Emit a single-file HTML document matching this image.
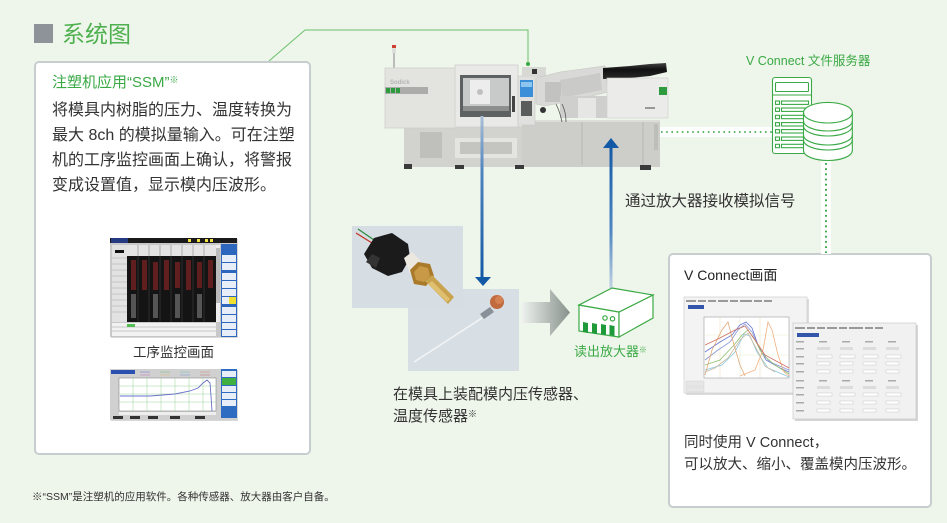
<!DOCTYPE html>
<html><head><meta charset="utf-8"><style>
html,body{margin:0;padding:0;}
body{width:947px;height:523px;background:#eef5ea;position:relative;overflow:hidden;font-family:"Liberation Sans","Noto Sans CJK SC",sans-serif;color:#333;}
.t{position:absolute;white-space:nowrap;}
svg{position:absolute;left:0;top:0;}
sup{font-size:0.6em;vertical-align:0.45em;line-height:0;}
</style></head><body>
<svg width="947" height="523" viewBox="0 0 947 523">
<defs>
<linearGradient id="gArrow" x1="0" x2="1" y1="0" y2="0"><stop offset="0" stop-color="#eef1ee"/><stop offset="1" stop-color="#87918b"/></linearGradient>
<linearGradient id="gBlueDown" x1="0" x2="0" y1="0" y2="1"><stop offset="0" stop-color="#a9bfd6"/><stop offset="0.35" stop-color="#4d82bf"/><stop offset="1" stop-color="#135aa6"/></linearGradient>
<linearGradient id="gBlueUp" x1="0" x2="0" y1="0" y2="1"><stop offset="0" stop-color="#135aa6"/><stop offset="0.6" stop-color="#4f86c2"/><stop offset="1" stop-color="#c2d3e3"/></linearGradient>
<linearGradient id="gMotor" x1="0" x2="0" y1="0" y2="1"><stop offset="0" stop-color="#444"/><stop offset="0.4" stop-color="#111"/><stop offset="1" stop-color="#2a2a2a"/></linearGradient>
</defs>

<!-- title square -->
<rect x="34" y="24" width="19" height="19" fill="#8e9399"/>

<!-- left box -->
<rect x="35" y="62" width="275" height="392" rx="4" fill="#fff" stroke="#c8cdd0" stroke-width="2"/>
<!-- right box -->
<rect x="669" y="254" width="262" height="253" rx="4" fill="#fff" stroke="#c8cdd0" stroke-width="2"/>

<!-- green connector -->
<polyline points="269,61 305,30 528,30 528,64" fill="none" stroke="#6cc06c" stroke-width="1"/>
<circle cx="528" cy="64" r="2" fill="#3aa945"/>

<!-- dotted connectors with white bands -->
<rect x="659" y="127" width="114" height="10" fill="#fff"/>
<line x1="661" y1="132" x2="772" y2="132" stroke="#2aa038" stroke-width="1.6" stroke-dasharray="1.6 3.6"/>
<rect x="821" y="161" width="10" height="93" fill="#fff"/>
<line x1="826" y1="163" x2="826" y2="253" stroke="#2aa038" stroke-width="1.8" stroke-dasharray="1.8 3.4"/>

<!-- ===== machine ===== -->
<g>
<line x1="394" y1="52" x2="394" y2="69" stroke="#aaa" stroke-width="1.5"/>
<rect x="392" y="45" width="4" height="8" fill="#dcdedc"/>
<rect x="392" y="45" width="4" height="3" fill="#d04030"/>
<!-- base -->
<rect x="404" y="126" width="256" height="41" fill="#d2d2ce"/>
<rect x="420" y="132" width="22" height="26" fill="#bfc0bb"/>
<rect x="455" y="138" width="62" height="20" fill="#e4e4e0"/>
<rect x="460" y="142" width="52" height="12" fill="#c4c5c0"/>
<rect x="522" y="120" width="138" height="47" fill="#cdcdc9"/>
<line x1="582" y1="122" x2="582" y2="165" stroke="#b8b8b4" stroke-width="1"/>
<line x1="643" y1="122" x2="643" y2="165" stroke="#b8b8b4" stroke-width="1"/>
<line x1="522" y1="121" x2="660" y2="121" stroke="#e2e2de" stroke-width="1.5"/>
<rect x="654" y="124" width="4" height="26" fill="#bdbdb9"/>
<rect x="404" y="164" width="8" height="5" fill="#3a3a3a"/>
<rect x="455" y="165" width="9" height="4" fill="#3a3a3a"/>
<rect x="515" y="165" width="9" height="4" fill="#3a3a3a"/>
<rect x="640" y="165" width="11" height="5" fill="#3a3a3a"/>
<!-- left cover -->
<rect x="385" y="68" width="71" height="60" fill="#e3e3e0" stroke="#cfcfcb" stroke-width="0.8"/>
<rect x="385" y="87" width="43" height="7" fill="#acacaa"/>
<rect x="386" y="88" width="4" height="5" fill="#2e9a3e"/><rect x="391" y="88" width="4" height="5" fill="#2e9a3e"/><rect x="396" y="88" width="4" height="5" fill="#2e9a3e"/>
<text x="390" y="84" font-size="6" font-weight="bold" fill="#b5b5b2" font-family="Liberation Sans">Sodick</text>
<!-- door -->
<rect x="455" y="65" width="63" height="62" fill="#e9e9e7" stroke="#cfcfcb" stroke-width="0.8"/>
<rect x="460" y="75" width="51" height="42" fill="#5e6162"/>
<rect x="463" y="78" width="46" height="33" fill="#c8cac9"/>
<rect x="470" y="80" width="20" height="24" fill="#ecedec"/>
<circle cx="480" cy="92" r="3" fill="#bfc1c0"/>
<rect x="463" y="106" width="46" height="5" fill="#8d8f8f"/>
<rect x="512" y="96" width="3" height="16" fill="#444"/>
<!-- control panel -->
<rect x="518" y="76" width="17" height="49" fill="#e0e0de" stroke="#c8c8c5" stroke-width="0.6"/>
<rect x="520" y="80" width="13" height="17" fill="#3b8fd8"/>
<rect x="521" y="82" width="11" height="5" fill="#8cc6f0"/>
<rect x="521" y="101" width="11" height="15" fill="#5a5c5c"/>
<rect x="522" y="67" width="24" height="10" fill="#d8d8d5"/>
<rect x="532" y="69" width="5" height="5" fill="#333"/>
<!-- injection unit -->
<polygon points="536,78 560,72 605,66 608,92 575,100 545,106 536,104" fill="#d9dad7" stroke="#c3c4c0" stroke-width="0.6"/>
<polygon points="560,80 600,73 602,90 562,98" fill="#cacbc8"/>
<rect x="545" y="82" width="16" height="20" fill="#c2c3c0"/>
<rect x="560" y="96" width="48" height="22" fill="#cfd0cd"/>
<rect x="578" y="98" width="18" height="20" fill="#e6e6e4"/>
<path d="M556 104 Q560 112 562 122 M562 104 Q566 112 566 122" stroke="#555" stroke-width="0.8" fill="none"/>
<circle cx="543" cy="110" r="3" fill="#333"/>
<polygon points="603,68 630,66 650,64 666,63 667,72 650,76 630,78 603,79" fill="url(#gMotor)"/>
<rect x="607" y="78" width="61" height="40" fill="#ebebe9" stroke="#cfcfcc" stroke-width="0.6"/>
<rect x="659" y="87" width="8" height="8" fill="#2e9a3e"/>
<rect x="645" y="107" width="10" height="2" fill="#999"/>
</g>

<!-- blue arrows -->
<rect x="480.5" y="116" width="3" height="162" fill="url(#gBlueDown)"/>
<polygon points="475,277 491,277 483,286" fill="#135aa6"/>
<rect x="609.5" y="147" width="3" height="141" fill="url(#gBlueUp)"/>
<polygon points="603,148 619,148 611,138" fill="#135aa6"/>

<!-- sensor photos -->
<rect x="408" y="289" width="111" height="82" fill="#d8dfe4"/>
<line x1="414" y1="362" x2="482" y2="318" stroke="#f2f4f5" stroke-width="1.6"/>
<polygon points="480,314 490,307 494,312 484,319" fill="#8a9098"/>
<circle cx="497" cy="302" r="7" fill="#c06a3e"/>
<circle cx="499" cy="300" r="4" fill="#d48050"/>

<rect x="352" y="226" width="111" height="82" fill="#d6dde3"/>
<path d="M358 229 L374 240" stroke="#2b8a3a" stroke-width="1.2"/>
<path d="M356 233 L372 243" stroke="#c03020" stroke-width="1.2"/>
<polygon points="364,254 374,238 392,233 408,244 410,258 402,272 388,276 372,268" fill="#1b1b1b"/>
<polygon points="366,262 372,254 380,258 376,268" fill="#333"/>
<polygon points="404,258 412,252 420,260 418,270 410,274" fill="#ebe8e0"/>
<polygon points="410,270 418,262 430,264 434,276 426,286 414,284" fill="#a87a2a"/>
<polygon points="414,272 420,266 428,268 430,276 424,282 416,280" fill="#c89a48"/>
<polygon points="425,281 432,275 454,297 448,304" fill="#c9a24e"/>
<polygon points="428,284 432,281 450,299 447,302" fill="#e0c070"/>

<!-- gray arrow -->
<polygon points="522,302 550,302 550,289 570,312.5 550,336 550,323 522,323" fill="url(#gArrow)"/>

<!-- amplifier -->
<g fill="none" stroke="#3aa945" stroke-width="1.2">
<polygon points="579,305 619,312 619,337 579,331" fill="#fff"/>
<polygon points="619,312 653,295 653,318 619,337" fill="#fff"/>
<polygon points="579,305 619,312 653,295 612,288" fill="#fff"/>
<circle cx="605" cy="318" r="2.2"/><circle cx="612.5" cy="318.8" r="2.2"/>
</g>
<g fill="#1f9a3a">
<polygon points="583,322 588,323 588,333 583,332"/>
<polygon points="592,323 597,324 597,334 592,333"/>
<polygon points="601,324 606,325 606,335 601,334"/>
<polygon points="609.5,325 614.5,326 614.5,336 609.5,335"/>
</g>

<!-- server icon -->
<g fill="none" stroke="#3aa945" stroke-width="1.1">
<rect x="772.5" y="77.5" width="39" height="76" rx="2.5" fill="#fff"/>
<rect x="775.5" y="82.5" width="33" height="9" rx="1"/>
<line x1="773" y1="95" x2="811" y2="95"/>
<rect x="775.5" y="101" width="4" height="3.4"/><rect x="781.5" y="101" width="27" height="3.4"/>
<rect x="775.5" y="108" width="4" height="3.4"/><rect x="781.5" y="108" width="27" height="3.4"/>
<rect x="775.5" y="115.3" width="4" height="3.4"/><rect x="781.5" y="115.3" width="27" height="3.4"/>
<rect x="775.5" y="122.6" width="4" height="3.4"/><rect x="781.5" y="122.6" width="27" height="3.4"/>
<rect x="775.5" y="129.6" width="4" height="3.4"/><rect x="781.5" y="129.6" width="27" height="3.4"/>
<rect x="775.5" y="137" width="4" height="3.4"/><rect x="781.5" y="137" width="27" height="3.4"/>
<rect x="775.5" y="144.3" width="4" height="3.4"/><rect x="781.5" y="144.3" width="27" height="3.4"/>
<path d="M803.5 112.7 L803.5 150.5 A24.4 10 0 0 0 852.3 150.5 L852.3 112.7 Z" fill="#fff"/>
<ellipse cx="827.9" cy="112.7" rx="24.4" ry="10.3" fill="#fff"/>
<path d="M803.5 121 A24.4 10 0 0 0 852.3 121"/>
<path d="M803.5 126 A24.4 10 0 0 0 852.3 126"/>
<path d="M803.5 135 A24.4 10 0 0 0 852.3 135"/>
<path d="M803.5 140 A24.4 10 0 0 0 852.3 140"/>
</g>

<!-- ===== left screenshots ===== -->
<rect x="111" y="239" width="127" height="99" fill="#d8d8d8"/>
<rect x="110" y="238" width="127" height="99" fill="#c8c8c8"/>
<rect x="110" y="238" width="127" height="5" fill="#1a1a1a"/>
<rect x="111" y="238" width="17" height="5" fill="#253a80"/>
<rect x="188" y="239" width="3" height="3" fill="#f0e040"/><rect x="197" y="239" width="3" height="3" fill="#f0e040"/><rect x="205" y="239" width="3" height="3" fill="#f0e040"/><rect x="210" y="239" width="3" height="3" fill="#f0e040"/>
<rect x="112" y="245" width="15" height="77" fill="#e2e2e2"/>
<rect x="115" y="250" width="9" height="3" fill="#111"/>
<g stroke="#999" stroke-width="0.4"><line x1="112" y1="258" x2="127" y2="258"/><line x1="112" y1="264" x2="127" y2="264"/><line x1="112" y1="270" x2="127" y2="270"/><line x1="112" y1="276" x2="127" y2="276"/><line x1="112" y1="282" x2="127" y2="282"/><line x1="112" y1="288" x2="127" y2="288"/><line x1="112" y1="294" x2="127" y2="294"/><line x1="112" y1="300" x2="127" y2="300"/><line x1="112" y1="306" x2="127" y2="306"/><line x1="112" y1="312" x2="127" y2="312"/></g>
<rect x="127" y="245" width="89" height="77" fill="#141414"/>
<rect x="127" y="245" width="89" height="11" fill="#e4e4e4"/>
<g stroke="#555" stroke-width="0.4">
<line x1="138" y1="245" x2="138" y2="322"/><line x1="149" y1="245" x2="149" y2="322"/><line x1="160" y1="245" x2="160" y2="322"/><line x1="171" y1="245" x2="171" y2="322"/><line x1="182" y1="245" x2="182" y2="322"/><line x1="193" y1="245" x2="193" y2="322"/><line x1="204" y1="245" x2="204" y2="322"/>
</g>
<g fill="#6a2020" opacity="0.9">
<rect x="131" y="260" width="5" height="30"/><rect x="142" y="260" width="5" height="30"/><rect x="153" y="262" width="5" height="28"/><rect x="164" y="260" width="5" height="30"/><rect x="175" y="262" width="5" height="26"/><rect x="186" y="260" width="5" height="30"/><rect x="197" y="262" width="5" height="26"/><rect x="208" y="260" width="5" height="28"/>
</g>
<g fill="#555"><rect x="131" y="294" width="5" height="24"/><rect x="153" y="294" width="5" height="24"/><rect x="175" y="294" width="5" height="24"/><rect x="197" y="294" width="5" height="24"/></g>
<rect x="216" y="245" width="4" height="77" fill="#eee"/>
<rect x="216" y="248" width="4" height="55" fill="#bbb"/>
<rect x="112" y="323" width="104" height="13" fill="#f2f2f2"/>
<rect x="127" y="324" width="8" height="3" fill="#50c050"/>
<g stroke="#888" stroke-width="0.4"><line x1="112" y1="327" x2="216" y2="327"/><line x1="112" y1="331" x2="216" y2="331"/></g>
<rect x="221" y="244" width="16" height="93" fill="#2d66bd"/>
<g fill="#e8eef8">
<rect x="222" y="255" width="14" height="7"/><rect x="222" y="263" width="14" height="7"/>
<rect x="222" y="273" width="14" height="7"/><rect x="222" y="281" width="14" height="7"/><rect x="222" y="289" width="14" height="7"/><rect x="222" y="297" width="14" height="7"/>
<rect x="222" y="307" width="14" height="7"/><rect x="222" y="315" width="14" height="7"/><rect x="222" y="323" width="14" height="6"/><rect x="222" y="330" width="14" height="6"/>
</g>
<rect x="229" y="297" width="7" height="7" fill="#f0e030"/>

<rect x="111" y="370" width="127" height="51" fill="#d8d8d8"/>
<rect x="110" y="369" width="127" height="51" fill="#d0d0d0"/>
<rect x="111" y="370" width="24" height="4" fill="#2a50b0"/>
<g stroke-width="0.6"><line x1="140" y1="372" x2="150" y2="372" stroke="#8080d0"/><line x1="160" y1="372" x2="170" y2="372" stroke="#80c080"/><line x1="180" y1="372" x2="190" y2="372" stroke="#80c0c0"/><line x1="200" y1="372" x2="210" y2="372" stroke="#d09080"/>
<line x1="140" y1="375" x2="150" y2="375" stroke="#c080c0"/><line x1="160" y1="375" x2="170" y2="375" stroke="#d0c080"/><line x1="180" y1="375" x2="190" y2="375" stroke="#80a0d0"/><line x1="200" y1="375" x2="210" y2="375" stroke="#c08080"/></g>
<rect x="119" y="378" width="97" height="33" fill="#fff" stroke="#777" stroke-width="0.5"/>
<g stroke="#9ad49a" stroke-width="0.5">
<line x1="133" y1="378" x2="133" y2="411"/><line x1="147" y1="378" x2="147" y2="411"/><line x1="161" y1="378" x2="161" y2="411"/><line x1="175" y1="378" x2="175" y2="411"/><line x1="189" y1="378" x2="189" y2="411"/><line x1="203" y1="378" x2="203" y2="411"/>
<line x1="119" y1="386" x2="216" y2="386"/><line x1="119" y1="394" x2="216" y2="394"/><line x1="119" y1="402" x2="216" y2="402"/>
</g>
<polyline points="120,396 150,396 175,394 190,391 198,388 203,383 207,380 210,383 211,396 212,411" fill="none" stroke="#6a70c8" stroke-width="0.9"/>
<rect x="119" y="412" width="97" height="3" fill="#eee"/>
<rect x="221" y="369" width="16" height="49" fill="#2d6cc0"/>
<rect x="222" y="371" width="14" height="6" fill="#e8eef8"/><rect x="222" y="378" width="14" height="7" fill="#40b040"/><rect x="222" y="386" width="14" height="6" fill="#e8eef8"/><rect x="222" y="393" width="14" height="6" fill="#e8eef8"/><rect x="222" y="400" width="14" height="6" fill="#e8eef8"/>
<g fill="#333"><rect x="113" y="416" width="10" height="3"/><rect x="130" y="416" width="10" height="3"/><rect x="148" y="416" width="10" height="3"/><rect x="170" y="416" width="10" height="3"/><rect x="195" y="416" width="10" height="3"/></g>

<!-- ===== V Connect screenshots ===== -->
<rect x="686" y="299" width="123" height="96" fill="#dcdcdc"/>
<rect x="684" y="297" width="123" height="96" fill="#f3f3f3" stroke="#c8c8c8" stroke-width="0.6"/>
<g fill="#999"><rect x="686" y="300" width="10" height="2"/><rect x="698" y="300" width="8" height="2"/><rect x="708" y="300" width="8" height="2"/><rect x="718" y="300" width="10" height="2"/><rect x="730" y="300" width="8" height="2"/><rect x="740" y="300" width="12" height="2"/><rect x="754" y="300" width="8" height="2"/><rect x="764" y="300" width="8" height="2"/></g>
<rect x="688" y="305" width="16" height="4" fill="#3355aa"/>
<rect x="704" y="317" width="85" height="61" fill="#fff" stroke="#888" stroke-width="0.5"/>
<g stroke-width="0.5" opacity="0.8">
<line x1="720" y1="317" x2="720" y2="378" stroke="#e8d0a0"/><line x1="740" y1="317" x2="740" y2="378" stroke="#d0e0c0"/><line x1="760" y1="317" x2="760" y2="378" stroke="#e8d0a0"/><line x1="704" y1="335" x2="789" y2="335" stroke="#e0e8c0"/><line x1="704" y1="355" x2="789" y2="355" stroke="#e0e8c0"/>
</g>
<g fill="none" stroke-width="0.8">
<polyline points="705,352 720,342 732,335 740,325 746,322 752,328 758,345 766,360 780,368 789,372" stroke="#6878d0"/>
<polyline points="705,360 718,350 730,342 738,330 745,324 752,332 760,350 770,362 789,370" stroke="#8898d8"/>
<polyline points="705,365 720,360 734,345 742,335 748,330 755,340 763,355 775,365 789,374" stroke="#90c070"/>
<polyline points="705,370 722,365 735,352 744,334 750,336 757,352 768,368 789,377" stroke="#88c8e0"/>
<polyline points="705,375 712,350 722,330 728,322 734,345 740,365 745,376" stroke="#e0a878"/>
<polyline points="740,376 755,370 763,350 768,322 772,330 778,355 784,372 789,376" stroke="#f0b080"/>
<polyline points="705,345 720,338 735,330 745,326 755,340 765,355 778,362 789,368" stroke="#d07060"/>
<polyline points="705,372 715,368 728,358 740,340 748,333 756,348 765,366 775,372" stroke="#c8b8a0"/>
</g>
<rect x="686" y="381" width="18" height="5" fill="#e6e6e6" stroke="#ccc" stroke-width="0.4"/>
<rect x="686" y="387" width="18" height="5" fill="#e6e6e6" stroke="#ccc" stroke-width="0.4"/>

<rect x="795" y="325" width="123" height="96" fill="#d6d6d6"/>
<rect x="793" y="323" width="123" height="96" fill="#f1f1f1" stroke="#c4c4c4" stroke-width="0.6"/>
<g fill="#999"><rect x="795" y="327" width="10" height="2"/><rect x="807" y="327" width="8" height="2"/><rect x="817" y="327" width="8" height="2"/><rect x="827" y="327" width="10" height="2"/><rect x="839" y="327" width="8" height="2"/><rect x="849" y="327" width="14" height="2"/><rect x="865" y="327" width="8" height="2"/><rect x="875" y="327" width="8" height="2"/></g>
<rect x="797" y="333" width="22" height="4" fill="#3355aa"/>
<g fill="#fff" stroke="#bbb" stroke-width="0.4">
<rect x="817" y="355" width="15" height="3"/><rect x="840" y="355" width="15" height="3"/><rect x="863" y="355" width="15" height="3"/><rect x="886" y="355" width="15" height="3"/>
<rect x="817" y="362" width="13" height="3"/><rect x="840" y="362" width="13" height="3"/><rect x="863" y="362" width="13" height="3"/><rect x="886" y="362" width="13" height="3"/>
<rect x="817" y="370" width="13" height="3"/><rect x="840" y="370" width="13" height="3"/><rect x="863" y="370" width="13" height="3"/><rect x="886" y="370" width="13" height="3"/>
<rect x="817" y="393" width="15" height="3"/><rect x="840" y="393" width="15" height="3"/><rect x="863" y="393" width="15" height="3"/><rect x="886" y="393" width="15" height="3"/>
<rect x="817" y="401" width="13" height="3"/><rect x="840" y="401" width="13" height="3"/><rect x="863" y="401" width="13" height="3"/><rect x="886" y="401" width="13" height="3"/>
<rect x="817" y="409" width="13" height="3"/><rect x="840" y="409" width="13" height="3"/><rect x="863" y="409" width="13" height="3"/><rect x="886" y="409" width="13" height="3"/>
</g>
<g fill="#dcdcdc"><rect x="817" y="347" width="13" height="3"/><rect x="840" y="347" width="13" height="3"/><rect x="863" y="347" width="13" height="3"/><rect x="886" y="347" width="13" height="3"/>
<rect x="817" y="386" width="13" height="3"/><rect x="840" y="386" width="13" height="3"/><rect x="863" y="386" width="13" height="3"/><rect x="886" y="386" width="13" height="3"/></g>
<g fill="#aaa"><rect x="796" y="341" width="8" height="1.5"/><rect x="796" y="348" width="8" height="1.5"/><rect x="796" y="356" width="8" height="1.5"/><rect x="796" y="363" width="8" height="1.5"/><rect x="796" y="371" width="8" height="1.5"/><rect x="796" y="380" width="8" height="1.5"/><rect x="796" y="387" width="8" height="1.5"/><rect x="796" y="394" width="8" height="1.5"/><rect x="796" y="402" width="8" height="1.5"/><rect x="796" y="410" width="8" height="1.5"/>
<rect x="819" y="341" width="8" height="1.5"/><rect x="842" y="341" width="8" height="1.5"/><rect x="865" y="341" width="8" height="1.5"/><rect x="888" y="341" width="8" height="1.5"/>
<rect x="819" y="380" width="8" height="1.5"/><rect x="842" y="380" width="8" height="1.5"/><rect x="865" y="380" width="8" height="1.5"/><rect x="888" y="380" width="8" height="1.5"/></g>
</svg>

<div class="t" style="left:62px;top:19px;font-size:23px;line-height:30px;color:#4fb050;">系统图</div>

<div class="t" style="left:52px;top:73px;font-size:15px;line-height:20px;color:#3aa945;">注塑机应用“SSM”<sup>※</sup></div>
<div class="t" style="left:52px;top:97.5px;font-size:16px;line-height:25px;color:#333;">将模具内树脂的压力、温度转换为<br>最大 8ch 的模拟量输入。可在注塑<br>机的工序监控画面上确认，将警报<br>变成设置值，显示模内压波形。</div>
<div class="t" style="left:110px;width:127px;text-align:center;top:344px;font-size:13.5px;line-height:18px;color:#333;">工序监控画面</div>

<div class="t" style="left:32px;top:490px;font-size:10.5px;line-height:14px;color:#333;">※“SSM”是注塑机的应用软件。各种传感器、放大器由客户自备。</div>

<div class="t" style="left:393px;top:384px;font-size:15px;line-height:22px;color:#333;">在模具上装配模内压传感器、<br>温度传感器<sup>※</sup></div>
<div class="t" style="left:574px;top:343px;font-size:13px;line-height:18px;color:#3aa945;">读出放大器<sup>※</sup></div>
<div class="t" style="left:625px;top:192px;font-size:15.5px;line-height:20px;color:#333;">通过放大器接收模拟信号</div>
<div class="t" style="left:746px;top:53px;font-size:12.5px;line-height:16px;color:#3aa945;">V Connect 文件服务器</div>

<div class="t" style="left:684px;top:266px;font-size:14px;line-height:18px;color:#222;">V Connect画面</div>
<div class="t" style="left:684px;top:432px;font-size:14.5px;line-height:22px;color:#333;">同时使用 V Connect，<br>可以放大、缩小、覆盖模内压波形。</div>
</body></html>
